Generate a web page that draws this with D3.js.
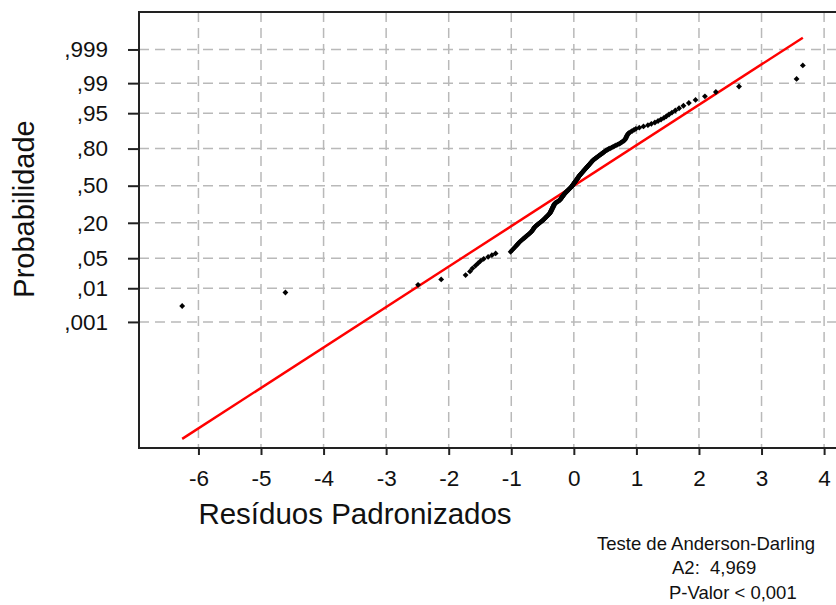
<!DOCTYPE html>
<html>
<head>
<meta charset="utf-8">
<script src="https://cdn.jsdelivr.net/npm/d3@7"></script>
<style>
  body { margin: 0; background: #fff; }
  svg { display: block; font-family: "Liberation Sans", Arial, sans-serif; }
</style>
</head>
<body>
<svg id="chart" width="836" height="605"></svg>
<script>
// standardized residuals, sorted
var residuals = [
  -6.26, -4.61, -2.49, -2.12, -1.73, -1.66, -1.62, -1.57, -1.53, -1.49,
  -1.44, -1.37, -1.31, -1.25, -1.01, -0.989, -0.968, -0.948, -0.928, -0.910,
  -0.892, -0.875, -0.857, -0.837, -0.817, -0.797, -0.778, -0.760, -0.743, -0.725,
  -0.708, -0.692, -0.676, -0.666, -0.657, -0.649, -0.640, -0.632, -0.623, -0.608,
  -0.593, -0.578, -0.564, -0.550, -0.536, -0.522, -0.508, -0.494, -0.482, -0.472,
  -0.461, -0.451, -0.440, -0.430, -0.420, -0.410, -0.400, -0.390, -0.382, -0.377,
  -0.372, -0.367, -0.363, -0.358, -0.353, -0.349, -0.344, -0.340, -0.335, -0.331,
  -0.326, -0.322, -0.318, -0.313, -0.309, -0.305, -0.293, -0.280, -0.266, -0.253,
  -0.240, -0.227, -0.219, -0.213, -0.207, -0.201, -0.195, -0.188, -0.182, -0.176,
  -0.170, -0.164, -0.158, -0.151, -0.145, -0.138, -0.129, -0.121, -0.113, -0.105,
  -0.096, -0.088, -0.080, -0.072, -0.064, -0.056, -0.048, -0.039, -0.033, -0.028,
  -0.021, -0.016, -0.011, -0.005, 0.001, 0.007, 0.013, 0.018, 0.024, 0.030,
  0.036, 0.041, 0.047, 0.053, 0.059, 0.065, 0.070, 0.076, 0.082, 0.088,
  0.094, 0.100, 0.108, 0.115, 0.123, 0.130, 0.137, 0.145, 0.152, 0.160,
  0.167, 0.175, 0.183, 0.190, 0.198, 0.205, 0.213, 0.221, 0.229, 0.237,
  0.245, 0.253, 0.261, 0.269, 0.277, 0.285, 0.293, 0.302, 0.311, 0.324,
  0.336, 0.349, 0.363, 0.376, 0.389, 0.402, 0.416, 0.430, 0.444, 0.458,
  0.472, 0.486, 0.500, 0.515, 0.535, 0.557, 0.579, 0.603, 0.626, 0.649,
  0.673, 0.698, 0.724, 0.745, 0.765, 0.784, 0.805, 0.818, 0.825, 0.832,
  0.839, 0.846, 0.854, 0.861, 0.874, 0.903, 0.931, 0.961, 0.991, 1.046,
  1.113, 1.184, 1.239, 1.296, 1.346, 1.393, 1.439, 1.479, 1.521, 1.568,
  1.622, 1.682, 1.752, 1.838, 1.945, 2.095, 2.27, 2.64, 3.56, 3.66
];

var probTicks = [0.001, 0.01, 0.05, 0.20, 0.50, 0.80, 0.95, 0.99, 0.999];
var probLabels = [",001", ",01", ",05", ",20", ",50", ",80", ",95", ",99", ",999"];
var xTicks = [-6, -5, -4, -3, -2, -1, 0, 1, 2, 3, 4];

// fitted normal line
var fitMean = 0.0, fitSd = 1.09;

var adTitle = "Teste de Anderson-Darling";
var adStat = "4,969";
var adPvalue = "P-Valor < 0,001";

// inverse normal cdf (Acklam)
function probit(p) {
  var a = [-3.969683028665376e+01, 2.209460984245205e+02, -2.759285104469687e+02, 1.383577518672690e+02, -3.066479806614716e+01, 2.506628277459239e+00];
  var b = [-5.447609879822406e+01, 1.615858368580409e+02, -1.556989798598866e+02, 6.680131188771972e+01, -1.328068155288572e+01];
  var c = [-7.784894002430293e-03, -3.223964580411365e-01, -2.400758277161838e+00, -2.549671010229528e+00, 4.374587199495376e+00, 2.938163982698783e+00];
  var d = [7.784695709041462e-03, 3.224671290700398e-01, 2.445134137142996e+00, 3.754408661907416e+00];
  var q, r;
  if (p < 0.02425) {
    q = Math.sqrt(-2 * Math.log(p));
    return (((((c[0]*q+c[1])*q+c[2])*q+c[3])*q+c[4])*q+c[5]) / ((((d[0]*q+d[1])*q+d[2])*q+d[3])*q+1);
  }
  if (p > 1 - 0.02425) {
    q = Math.sqrt(-2 * Math.log(1 - p));
    return -(((((c[0]*q+c[1])*q+c[2])*q+c[3])*q+c[4])*q+c[5]) / ((((d[0]*q+d[1])*q+d[2])*q+d[3])*q+1);
  }
  q = p - 0.5; r = q * q;
  return (((((a[0]*r+a[1])*r+a[2])*r+a[3])*r+a[4])*r+a[5])*q / (((((b[0]*r+b[1])*r+b[2])*r+b[3])*r+b[4])*r+1);
}

var svg = d3.select("#chart");
var plotL = 139, plotT = 12, plotR = 846, plotB = 448;

var x = d3.scaleLinear().domain([-6.95, 4.35]).range([plotL, plotR]);
var y = d3.scaleLinear().domain([-5.95, 3.94]).range([plotB, plotT]);

var n = residuals.length;
var points = residuals.map(function (v, i) {
  return { x: v, z: probit((i + 1 - 0.3) / (n + 0.4)) };
});

// grid
var grid = svg.append("g")
  .attr("stroke", "#b9b9b9")
  .attr("stroke-width", 1.5)
  .attr("stroke-dasharray", "10,6");

grid.selectAll("line.v")
  .data(xTicks)
  .enter()
  .append("line")
  .attr("x1", function (d) { return x(d); })
  .attr("x2", function (d) { return x(d); })
  .attr("y1", plotT)
  .attr("y2", plotB);

grid.selectAll("line.h")
  .data(probTicks)
  .enter()
  .append("line")
  .attr("x1", plotL)
  .attr("x2", 836)
  .attr("y1", function (d) { return y(probit(d)); })
  .attr("y2", function (d) { return y(probit(d)); });

// axes
var yAxis = d3.axisLeft(y)
  .tickValues(probTicks.map(probit))
  .tickSize(11)
  .tickPadding(20)
  .tickFormat(function (d, i) { return probLabels[i]; });

var gy = svg.append("g")
  .attr("transform", "translate(" + plotL + ",0)")
  .call(yAxis);

var xAxis = d3.axisBottom(x)
  .tickValues(xTicks)
  .tickSize(7)
  .tickPadding(15)
  .tickFormat(function (d) { return String(d); });

var gx = svg.append("g")
  .attr("transform", "translate(0," + plotB + ")")
  .call(xAxis);

[gx, gy].forEach(function (g) {
  g.select(".domain").remove();
  g.selectAll(".tick line").attr("stroke", "#222").attr("stroke-width", 2);
  g.selectAll(".tick text")
    .attr("fill", "#111")
    .style("font-size", "22.5px")
    .style("font-family", "'Liberation Sans', Arial, sans-serif");
});

// frame
svg.append("path")
  .attr("d", "M836," + plotT + "H" + plotL + "V" + plotB + "H836")
  .attr("fill", "none")
  .attr("stroke", "#222")
  .attr("stroke-width", 2);

// fitted line
var ext = d3.extent(residuals);
svg.append("line")
  .attr("x1", x(ext[0]))
  .attr("y1", y((ext[0] - fitMean) / fitSd))
  .attr("x2", x(ext[1]))
  .attr("y2", y((ext[1] - fitMean) / fitSd))
  .attr("stroke", "#ff0000")
  .attr("stroke-width", 2.4);

// points
var diamond = d3.symbol().type(d3.symbolSquare).size(17);
svg.selectAll("path.pt")
  .data(points)
  .enter()
  .append("path")
  .attr("class", "pt")
  .attr("d", diamond)
  .attr("transform", function (d) { return "translate(" + x(d.x) + "," + y(d.z) + ") rotate(45)"; })
  .attr("fill", "#000");

// axis titles
svg.append("text")
  .attr("x", 355)
  .attr("y", 524)
  .attr("text-anchor", "middle")
  .style("font-size", "29.5px")
  .attr("fill", "#111")
  .text("Resíduos Padronizados");

svg.append("text")
  .attr("transform", "translate(34,209) rotate(-90)")
  .attr("text-anchor", "middle")
  .style("font-size", "29px")
  .attr("fill", "#111")
  .text("Probabilidade");

// Anderson-Darling box
svg.append("text")
  .attr("x", 597)
  .attr("y", 550)
  .style("font-size", "18.5px")
  .attr("fill", "#111")
  .text(adTitle);

svg.append("text")
  .attr("x", 672)
  .attr("y", 574)
  .style("font-size", "18.5px")
  .attr("fill", "#111")
  .text("A2:");

svg.append("text")
  .attr("x", 710)
  .attr("y", 574)
  .style("font-size", "18.5px")
  .attr("fill", "#111")
  .text(adStat);

svg.append("text")
  .attr("x", 669)
  .attr("y", 599)
  .style("font-size", "18.5px")
  .attr("fill", "#111")
  .text(adPvalue);
</script>
</body>
</html>
